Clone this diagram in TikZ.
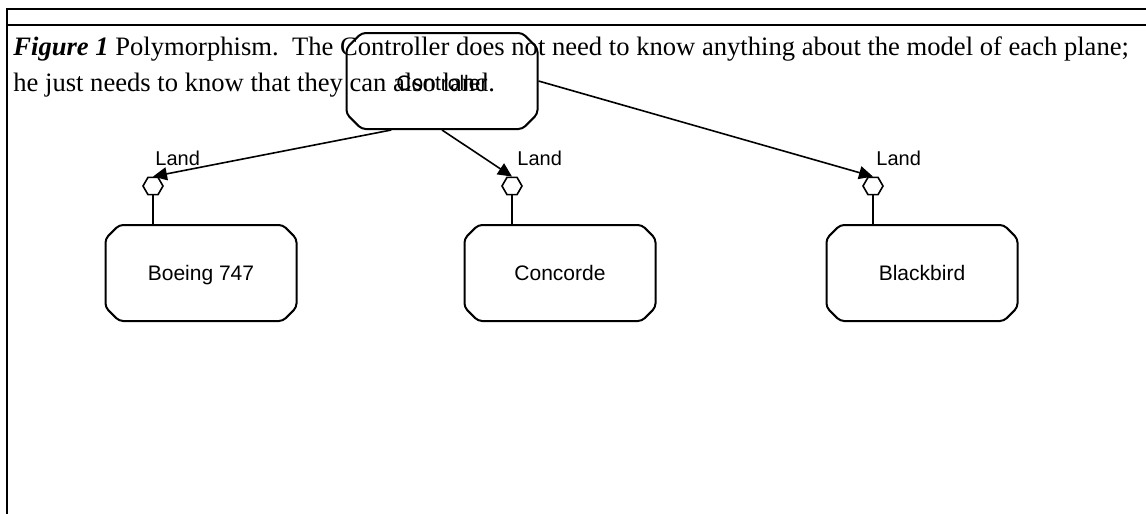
\documentclass[tikz,border=0pt]{standalone}
\usepackage{fontspec}
\setmainfont{Liberation Serif}
\newfontfamily\arialfont{Liberation Sans}
\usetikzlibrary{positioning}
\usetikzlibrary{shapes.misc,shapes.geometric}
\usetikzlibrary{arrows.meta}

\tikzset{
  plane/.style={chamfered rectangle, chamfered rectangle xsep=9pt, draw, line width=1pt,
    rounded corners=2pt, minimum width=95.5pt, minimum height=48pt, inner sep=0pt,
    text height=7.5pt, text depth=0pt, font=\arialfont\fontsize{10.5}{12}\selectfont},
  iface/.style={regular polygon, regular polygon sides=6, draw, line width=0.8pt,
    minimum size=10pt, inner sep=0pt},
  land/.style={inner sep=0pt, font=\arialfont\fontsize{10}{12}\selectfont},
  call/.style={line width=0.8pt, -{Triangle[length=7pt,width=6.5pt]}},
  caption/.style={anchor=base west, inner sep=0pt, font=\fontsize{13.3}{16}\selectfont}
}

\begin{document}
\begin{tikzpicture}[x=0.5pt,y=-0.5pt]
\useasboundingbox (0,0) rectangle (1146,514);
% frame
\draw[line width=1pt] (7,514) -- (7,9) -- (1146,9);
\draw[line width=1pt] (7,25) -- (1146,25);
% caption
\node[caption] (cap1) at (13,55) {\textbf{\textit{Figure 1}} Polymorphism.\ \ The Controller does not need to know anything about the model of each plane;};
\node[caption] (cap2) at (13,91) {he just needs to know that they can also land.};

\node[plane, text height=9pt] (ctrl) at (442,81) {Controller};
\node[plane] (boeing) at (201,273) {Boeing 747};
\node[plane] (conc) at (560,273) {Concorde};
\node[plane] (bird) at (922,273) {Blackbird};

% interfaces
\node[iface] (iboeing) at (153,186) {};
\node[iface] (iconc) at (512,186) {};
\node[iface] (ibird) at (873,186) {};
\draw[line width=0.8pt] (iboeing.south) -- (iboeing.south |- boeing.north);
\draw[line width=0.8pt] (iconc.south) -- (iconc.south |- conc.north);
\draw[line width=0.8pt] (ibird.south) -- (ibird.south |- bird.north);
\node[land, above right=5pt and 1pt of iboeing.north] (lboeing) {Land};
\node[land, above right=5pt and 2.5pt of iconc.north] (lconc) {Land};
\node[land, above right=5pt and 1.5pt of ibird.north] (lbird) {Land};

\draw[call] (ctrl.224) -- (iboeing.north);
\draw[call] (ctrl.south) -- (iconc.north);
\draw[call] (ctrl.east) -- (ibird.north);
\end{tikzpicture}
\end{document}
